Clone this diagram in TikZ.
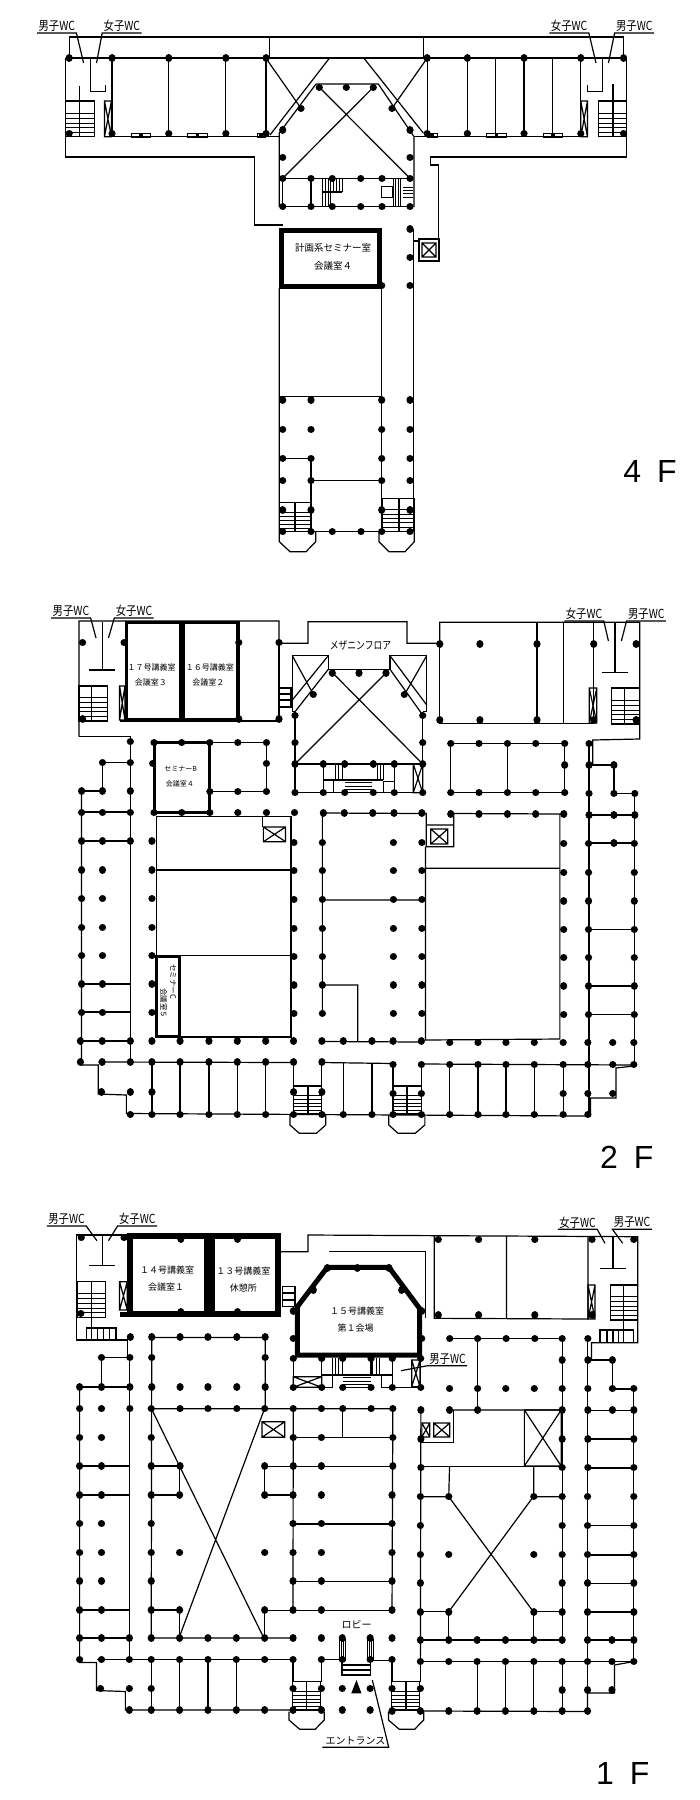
\documentclass[tikz,border=0pt]{standalone}
\usepackage{fontspec}
\newfontfamily\jp{Noto Sans CJK JP}
\newfontfamily\lat{Liberation Sans}

\newcommand{\cols}[2]{\draw[colmark] foreach \cx in {#1} {(\cx,#2) -- ++(.01,0)};}
\newcommand{\xbox}[4]{\draw[wall] (#1,#2) rectangle (#3,#4) (#1,#2) -- (#3,#4) (#1,#4) -- (#3,#2);}
\newcommand{\stairs}[5]{\draw[wall] (#1,#2) rectangle (#3,#4) (#5,#2) -- (#5,#4);
	\draw[thin] foreach \t in {.33,.47,.61,.73,.87} {(#1,{#2+\t*(#4-#2)}) -- (#3,{#2+\t*(#4-#2)})};}
\newcommand{\doormark}[3]{\draw[thin] (#1,#3) rectangle (#2,#3-4); \fill ({(#1+#2)/2-2},#3-3.5) rectangle ({(#1+#2)/2+2},#3-1);}
\newcommand{\wc}[1]{\scalebox{.83}[1]{#1}}

\begin{document}
\begin{tikzpicture}[x=.995pt, y=-1pt]
	\tikzstyle{wall}=[line width=1.2pt]
	\tikzstyle{colmark}=[line width=7.2pt, line cap=round]
	\tikzstyle{wclab}=[font=\jp\fontsize{12.5}{12.5}\selectfont, inner sep=0pt, minimum width=39pt, minimum height=13.5pt]
	\tikzstyle{room}=[font=\jp\fontsize{8}{8}\selectfont, inner sep=0pt]
	\tikzstyle{floorlab}=[font=\lat\fontsize{32}{32}\selectfont, inner sep=0pt]
	\useasboundingbox (0,0) rectangle (703.5,1800);

	% 4F
	\node[wclab] (m4l) at (57,26) {\wc{男子WC}};
	\node[wclab] (w4l) at (122.5,26) {\wc{女子WC}};
	\node[wclab] (w4r) at (572,26) {\wc{女子WC}};
	\node[wclab] (m4r) at (637.5,26) {\wc{男子WC}};
	\draw[wall] (m4l.south west) -- (m4l.south east) -- (84,63);
	\draw[wall] (w4l.south east) -- (w4l.south west) -- (97,63);
	\draw[wall] (w4r.south west) -- (w4r.south east) -- (599,63);
	\draw[wall] (m4r.south east) -- (m4r.south west) -- (611.5,63);
	\draw[wall] (69.5,58) -- (69.5,37) -- (627,37) -- (627,58) (271,37) -- (271,58) (426,37) -- (426,58);
	\draw[wall] (66,58) -- (630,58);
	\draw[wall] (66,58) -- (66,157) -- (256,157) -- (256,225) -- (284,225);
	\draw[wall] (630,58) -- (630,157) -- (433,157) -- (433,165) -- (440.5,165) -- (440.5,240);
	\draw[wall] (106,136.7) -- (280.4,136.7) (416,136.7) -- (591,136.7);
	\foreach \x in {112.6,169.6,227,267.4,429.3,469.7,498,526.7,555.4,583.7} \draw[wall] (\x,58) -- (\x,134);
	\draw[wall] (91,58) -- (91,91.5) -- (106,91.5) -- (106,85) (605.6,58) -- (605.6,91.5) -- (590.4,91.5) -- (590.4,85);
	\draw[wall] (80,86) -- (80,101) (616,84) -- (616,101);
	\stairs{66}{101}{94.7}{136.7}{80}
	\stairs{601.6}{101}{630}{136.7}{616}
	\xbox{105}{101}{112}{136.7}
	\xbox{583.7}{101}{590.4}{136.7}
	\doormark{131.5}{151}{136.7}
	\doormark{188.4}{208.6}{136.7}
	\doormark{258}{267}{136.7}
	\doormark{429}{439}{136.7}
	\doormark{489}{509}{136.7}
	\doormark{546}{565}{136.7}
	\cols{69.5,112.6,169.6,227,267.4,429.3,469.7,526.7,583.7,626.7}{58}
	\cols{69.5,112.6,169.6,227,267.4,429.3,469.7,526.7,583.7,626.7}{133.5}
	\begin{scope}[x=1pt]
		\node[floorlab] (f4) at (650,471.7) {4\hspace{16pt}F};
		\draw[wall] (316,84) -- (378.3,84) -- (414,136.7) -- (414,207) (316,84) -- (279.3,133) -- (279.3,207);
		\draw[wall] (329.3,58.3) -- (270,135) (364,58.3) -- (423.3,133) (266,58.3) -- (301,108.3) (427,58.3) -- (392,108.3);
		\draw[wall] (319.3,87.3) -- (410,178.3) (373.3,87.3) -- (282.7,178.3);
		\draw[wall] (282.7,178.3) -- (410,178.3) (282.7,206.7) -- (410,206.7) (311,178.3) -- (311,206.7) (282.7,178.3) -- (282.7,206.7);
		\foreach \x in {322.3,325,327.7,330.3} \draw[thin] (\x,178.3) -- (\x,206.7);
		\foreach \x in {333.3,336,339,342.3} \draw[thin] (\x,178.3) -- (\x,192);
		\draw[wall] (322.3,192) -- (342.3,192) (342.3,178.3) -- (342.3,192);
		\foreach \x in {392.7,395,398,400} \draw[thin] (\x,178.3) -- (\x,206.7);
		\foreach \y in {186.7,190,193.3,196.7} \draw[thin] (403,\y) -- (413.3,\y);
		\draw[wall] (381.7,186.7) rectangle (392.7,197.3);
		\cols{319.3,346.3,373.3}{87.3}
		\cols{301,392}{108.3}
		\cols{282.7,410}{130}
		\cols{282.7,410}{157.3}
		\cols{282.7,311,332.3,360.7,382,410}{178.3}
		\cols{282.7,311,332.3,360.7,382,410}{206.7}
		\draw[line width=4.5pt] (281.7,230.7) rectangle (379.3,286.7);
		\node[room, font=\jp\fontsize{9.5}{9.5}\selectfont] (sem4) at (333,248) {計画系セミナー室};
		\node[room, font=\jp\fontsize{9.5}{9.5}\selectfont] (conf4) at (333,266) {会議室４};
		\draw[wall] (413.3,229) -- (413.3,531.7) (413.3,241) -- (419,241);
		\draw[wall] (419,239) rectangle (439,261);
		\xbox{422}{243}{436}{257}
		\draw[wall] (279.3,288) -- (279.3,541.7) -- (290,551.7) -- (306,551.7) -- (315.7,541.7) -- (315.7,531.7);
		\draw[wall] (381.7,288) -- (381.7,531.7) (279.3,396.7) -- (381.7,396.7);
		\draw[wall] (379,531.7) -- (379,541.7) -- (389,551.7) -- (405,551.7) -- (414.3,541.7) -- (414.3,531.7);
		\draw[wall] (282.7,458.3) -- (311,458.3) -- (311,531.7) (311,480.7) -- (381.7,480.7) (279.3,531.7) -- (413.3,531.7);
		\stairs{279.3}{502.7}{311}{531.7}{295}
		\stairs{382.7}{498.3}{414.3}{531.7}{399}
		\cols{282.7,311,381.7,410}{400}
		\cols{282.7,311,381.7,410}{429.3}
		\cols{282.7,311,381.7,410}{458.3}
		\cols{282.7,311,381.7,410}{480.7}
		\cols{282.7,311,381.7,410}{510}
		\cols{282.7,311,332.3,361,381.7,410}{531.7}
		\cols{410}{229}
		\cols{410}{257.3}
		\cols{381.7,410}{285.7}
	\end{scope}

	% 2F
	\node[floorlab] (f2) at (630,1157) {2\hspace{16pt}F};
	\node[wclab] (m2l) at (71.3,611) {\wc{男子WC}};
	\node[wclab] (w2l) at (134.7,611) {\wc{女子WC}};
	\node[wclab] (w2r) at (587,614) {\wc{女子WC}};
	\node[wclab] (m2r) at (649.5,614) {\wc{男子WC}};
	\draw[wall] (m2l.south west) -- (m2l.south east) -- (96.5,638);
	\draw[wall] (w2l.south east) -- (w2l.south west) -- (109,638);
	\draw[wall] (w2r.south west) -- (w2r.south east) -- (611.5,641);
	\draw[wall] (m2r.south east) -- (m2r.south west) -- (624.5,641);
	\draw[wall] (79.4,736.7) -- (79.4,621) -- (280.4,621) -- (280.4,643.3) -- (309.6,643.3) -- (309.6,621.7) -- (409,621.7) -- (409,643.3) -- (442,643.3) -- (442,622.3) -- (643,622.3) -- (643,739) -- (595.8,740) -- (595.8,764);
	\draw[wall] (79.4,736.7) -- (131,736.7) -- (131,1062);
	\draw[wall] (102.7,622) -- (102.7,670) (89.7,670) -- (115.7,670) (618,622) -- (618,672.7) (604.8,672.7) -- (630.8,672.7);
	\draw[line width=3.5pt] (127,622.3) rectangle (239,719.3);
	\draw[line width=6pt] (182.6,622.3) -- (182.6,719.3);
	\draw[wall] (121,721) -- (280.4,721) (280.4,643.3) -- (280.4,721);
	\node[room] (r17) at (152.5,667.3) {１７号講義室};
	\node[room] (c3) at (151.6,682.7) {会議室３};
	\node[room] (r16) at (210.9,667.3) {１６号講義室};
	\node[room] (c2) at (209.5,682.7) {会議室２};
	\stairs{79.4}{686}{107.7}{721}{92}
	\stairs{614.6}{688}{643}{724}{628}
	\xbox{120.2}{686}{125.6}{720}
	\xbox{592.2}{688}{599.8}{723}
	\draw[wall] (442,622.3) -- (442,723.3) -- (596.7,723.3) (539.7,622.3) -- (539.7,723.3) (566,622.3) -- (566,723.3) (596.7,622.3) -- (596.7,723.3);
	\draw[wall] (280.4,688) rectangle (292.5,707) (280.4,694) -- (292.5,694) (280.4,700) -- (292.5,700);
	\cols{83,124.7,240,280.4}{642.5}
	\cols{442,482.3,539.7,596.7,639.3}{644}
	\cols{83,240,280.4}{719}
	\cols{442,482.3,539.7,596.7,639.3}{720}
	\begin{scope}[x=1pt]
		\node[font=\jp\fontsize{11}{11}\selectfont, inner sep=0pt] (mezz) at (360.5,645) {\scalebox{.8}[1]{メザニンフロア}};
		\draw[wall] (295,711.7) -- (292.3,711.7) -- (292.3,655.7) -- (328.3,655.7) -- (328.3,669.3) -- (390,669.3) -- (390,655.7) -- (426.7,655.7) -- (426.7,711.7) -- (422.7,711.7);
		\draw[wall] (328.3,655.7) -- (292.3,700) (328.3,669.3) -- (295,711.7) (292.3,655.7) -- (313.3,694.3);
		\draw[wall] (390,655.7) -- (426.7,705) (390,669.3) -- (422.7,715) (426.7,655.7) -- (404.3,695);
		\draw[wall] (332.3,672.5) -- (422.7,764) (386,673) -- (295,764);
		\draw[wall] (295,711.7) -- (295,792.7) -- (422.7,792.7) -- (422.7,711.7) (295,764) -- (422.7,764);
		\draw[wall] (323.3,764) -- (323.3,792.7) (394.3,764) -- (394.3,792.7) (323.3,780) -- (383,780);
		\foreach \x in {335,338.3,341.7,376.7,380,383.3} \draw[thin] (\x,764) -- (\x,780);
		\foreach \y in {781.7,785.7,789} \draw[thin] (345,\y) -- (371.7,\y);
		\draw[wall] (323.3,780) rectangle (333.3,792.7) (383.3,781.7) rectangle (394.3,792.7);
		\xbox{413.3}{764}{422.7}{792.7}
		\cols{332.3,359,386}{673}
		\cols{313.3,404.3}{694.5}
		\cols{295,422.7}{715.5}
		\cols{295,422.7}{742.8}
		\cols{295,323.3,344.7,373.3,394.3,422.7}{764}
		\cols{295,323.3,344.7,373.3,394.3,422.7}{792.7}
	\end{scope}
	\draw[line width=3pt] (154.8,742.7) rectangle (210.9,812.7);
	\node[room, font=\jp\fontsize{7}{7}\selectfont] (semb) at (181.7,769.3) {セミナーB};
	\node[room, font=\jp\fontsize{7}{7}\selectfont] (c4) at (180.8,784) {会議室４};
	\draw[wall] (210.9,742.7) -- (267.8,742.7) -- (267.8,791.7) -- (210.9,791.7);
	\cols{154.8,182.6,210.9,239,267.8}{742.7}
	\cols{154.8,182.6,210.9,239,267.8,296}{812.7}
	\cols{153.4,267.8}{763.3}
	\cols{210.9,239,267.8}{791.7}
	\draw[wall] (453,743.3) -- (567.5,743.3) -- (567.5,792.7) -- (453,792.7) -- cycle (510,743.3) -- (510,792.7);
	\cols{453,481.4,510,538.4,567.5}{743.3}
	\cols{567.5}{765}
	\cols{453,481.4,510,538.4,567.5}{792.7}
	% 2F wings
	\draw[wall] (82,791) -- (82,1065) -- (98.8,1065) -- (98.8,1094) -- (127,1095) -- (127,1113.5) -- (590,1116) -- (593.5,1116) -- (593.5,1098) -- (619,1098) -- (619,1068) -- (637,1066);
	\draw[wall] (82,791) -- (103,791) -- (103,762.7) -- (131,762.7);
	\foreach \y in {812,841,984,1012,1041} \draw[wall] (82,\y) -- (131,\y);
	\draw[wall] (98.8,1062) -- (295,1062.5) (323.5,1062.5) -- (395,1063.5) (423.5,1064) -- (637,1065);
	\draw[wall] (323.5,1041.5) -- (423.5,1042);
	\foreach \x in {152.7,181,210,238.5,267,345,373.8,452,480.4,508.5,537,566} \draw[wall] (\x,1063) -- (\x,1115);
	\foreach \x in {295,323.5,395,423.5} \draw[wall] (\x,1063) -- (\x,1086);
	\stairs{295}{1086}{323.5}{1114}{309.6}
	\stairs{395}{1086}{423.5}{1114}{409}
	\draw[wall] (291.5,1115) -- (291.5,1125) -- (300.8,1133.3) -- (318,1133.3) -- (327.3,1125) -- (327.3,1115);
	\draw[wall] (390.8,1115) -- (390.8,1125) -- (400,1133.3) -- (417.3,1133.3) -- (427,1125) -- (427,1115);
	\draw[wall] (157.3,816.7) -- (292.5,816.7) -- (292.5,1037) -- (157.3,1037) -- cycle (157.3,870) -- (292.5,870) (157.3,955.7) -- (292.5,955.7);
	\draw[line width=3pt] (157.3,956) rectangle (180.8,1036.7);
	\node[room, rotate=-90, font=\jp\fontsize{7.5}{7.5}\selectfont] (semc) at (174,981.7) {セミナーC};
	\node[room, rotate=-90, font=\jp\fontsize{7.5}{7.5}\selectfont] (c5) at (164.6,1003) {会議室５};
	\draw[wall] (263.8,816.7) -- (263.8,827);
	\xbox{264.7}{827}{287}{841.7}
	\draw[wall] (324,813) -- (424,813.5) (324,813) -- (324,1013.3) (324,900) -- (424,900) (324,985) -- (359.6,985) -- (359.6,1041.7);
	\draw[wall] (424,813.5) -- (428.4,813.5) -- (428.4,825) -- (456,825) -- (456,813.5) -- (566.6,814) (428.4,825) -- (428.4,846.7) -- (456,846.7) -- (456,825);
	\xbox{433}{829}{450}{844}
	\draw[wall] (427.7,846.7) -- (427.7,1040) -- (562.7,1039) -- (562.7,814) (427.7,868.3) -- (562.7,868.3);
	\draw[wall] (592,743) -- (592,1116) (592,765) -- (617,765) -- (617,793.3) -- (638,793.3) -- (638,1065);
	\foreach \y in {815,843,929.3,986,1014.7} \draw[wall] (592,\y) -- (638,\y);
	\foreach \y in {791,812.3,841,870,898.7,927.3,955.7,984,1012.3} {\cols{82,103}{\y}}
	\cols{131,103}{762.7}
	\cols{131}{791}
	\cols{131}{812.3}
	\cols{131}{841}
	\cols{131}{741.7}
	\foreach \y in {841,870,898.7,927.3,955.7,984,1012.3} {\cols{152.7}{\y}}
	\foreach \y in {842.7,870.7,899.3,928.3,956.7,985,1013.3} {\cols{295.4,324,395.4,424}{\y}}
	\foreach \y in {843.3,872.3,901,929.3,957.7,986,1014.7} {\cols{566.5,591.5,637.5}{\y}}
	\cols{325,346,374.6,396,424}{813}
	\cols{453,481.4,510,538.4,566.6}{814}
	\cols{592,617,638}{815}
	\cols{592,617}{765}
	\cols{592,617,638}{793.3}
	\cols{592}{743.7}
	\cols{617}{843}
	\cols{80.8,102.7,131,152.7,181,210,238.5,267,295,323.5,345,373.8,395,423.5}{1041}
	\cols{452,480.4,508.5,537,566,590.8,615.8,637}{1042.5}
	\cols{80.8,102.7,131,152.7,181,210,238.5,267,295,323.5}{1062}
	\cols{395,423.5,452,480.4,508.5,537,566,590.8,615.8,637}{1064.5}
	\cols{102,131,152.7,295,323.5}{1092}
	\cols{395,423.5,566,590.8,615.8}{1093.5}
	\cols{131,152.7,181,210,238.5,267,295,323.5,345,373.8,395,423.5,452,480.4,508.5,537,566,590.8}{1114.5}

	% 1F
	\node[floorlab] (f1) at (626,1773) {1\hspace{16pt}F};
	\node[wclab] (m1l) at (66.8,1219) {\wc{男子WC}};
	\node[wclab] (w1l) at (138,1219) {\wc{女子WC}};
	\node[wclab] (w1r) at (580.4,1222.3) {\wc{女子WC}};
	\node[wclab] (m1r) at (635.3,1222.3) {\wc{男子WC}};
	\draw[wall] (m1l.south west) -- (m1l.south east) -- (97.4,1240.7);
	\draw[wall] (w1l.south east) -- (w1l.south west) -- (109,1240.7);
	\draw[wall] (w1r.south west) -- (w1r.south east) -- (608,1243.3);
	\draw[wall] (m1r.south east) -- (m1r.south west) -- (625.8,1243.3);
	\draw[wall] (130,1235) -- (77.2,1235) -- (77.2,1340) -- (128,1340) -- (128,1357) (130.5,1357) -- (130.5,1659);
	\draw[wall] (282.6,1251.7) -- (309.6,1251.7) -- (309.6,1235) -- (641,1236.7) -- (641,1342.7) -- (594.4,1342.7) -- (594.4,1360);
	\draw[wall] (331,1251.7) -- (427.5,1251.7) -- (427.5,1318);
	\draw[wall] (436.5,1236) -- (436.5,1318.3) -- (591,1319) -- (591,1237) (509,1236) -- (509,1319);
	\draw[wall] (103.2,1235) -- (103.2,1265.7) (89.7,1265.7) -- (115.7,1265.7) (616,1236.7) -- (616,1268.3) (603.4,1268.3) -- (629,1268.3);
	\draw[line width=6pt] (130.5,1236.3) rectangle (279,1314.3);
	\draw[line width=11pt] (210.9,1236.3) -- (210.9,1314.3);
	\draw[line width=5.5pt] (120.5,1314.5) -- (130.5,1314.5);
	\node[room, font=\jp\fontsize{9}{9}\selectfont] (r14) at (168,1270) {１４号講義室};
	\node[room, font=\jp\fontsize{9}{9}\selectfont] (c1) at (167,1287.3) {会議室１};
	\node[room, font=\jp\fontsize{9}{9}\selectfont] (r13) at (244.5,1270.7) {１３号講義室};
	\node[room, font=\jp\fontsize{9}{9}\selectfont] (rest) at (244.5,1288) {休憩所};
	\stairs{77.6}{1281.7}{106.3}{1317.3}{92}
	\stairs{613.3}{1285}{641}{1320}{627}
	\xbox{120.2}{1281.7}{127.9}{1310}
	\xbox{591}{1285}{598}{1319}
	\draw[wall] (87,1328) rectangle (116.6,1340) (92,1317.3) -- (92,1340) (98,1328) -- (98,1340) (104,1328) -- (104,1340) (110,1328) -- (110,1340);
	\draw[wall] (603,1330) rectangle (637,1342.7) (627,1320) -- (627,1342.7) (610,1330) -- (610,1342.7) (616,1330) -- (616,1342.7) (622,1330) -- (622,1342.7);
	\cols{81.7,124.7}{1237.7}
	\cols{440.5,481,537.5,595,637}{1239.5}
	\cols{81.2}{1313.3}
	\cols{440.5,481,537.5,595}{1315}
	\cols{181.7,238.7}{1239}
	\cols{181.7,238.7}{1312}
	% 1F center
	\begin{scope}[x=1pt]
		\draw[line width=5pt] (327.3,1267.3) -- (389,1267.3) -- (419.5,1308.3) -- (419.5,1355) -- (297.3,1355) -- (297.3,1306.7) -- cycle;
		\node[room, font=\jp\fontsize{9}{9}\selectfont] (r15) at (357,1310.7) {１５号講義室};
		\node[room, font=\jp\fontsize{9}{9}\selectfont] (hall) at (355.7,1328.3) {第１会場};
		\node[wclab] (m1c) at (447.5,1358.7) {\wc{男子WC}};
		\draw[wall] (m1c.south east) -- (m1c.south west) -- (401,1370.7);
		\draw[wall] (282.7,1286.7) rectangle (295,1306.7) (282.7,1293) -- (295,1293) (282.7,1300) -- (295,1300);
		\draw[wall] (293.3,1358.3) -- (293.3,1387.3) -- (321.7,1387.3) -- (321.7,1358.3) (342.7,1358.3) -- (342.7,1375) (371,1358.3) -- (371,1375) (392.3,1358.3) -- (392.3,1387.3) -- (420.7,1387.3) -- (420.7,1358.3) (321.7,1375) -- (392.3,1375);
		\xbox{293.3}{1376.7}{321.7}{1387.3}
		\xbox{411.7}{1360}{420}{1386.7}
		\foreach \x in {331.7,335,338.3,372.3,376,379.3} \draw[thin] (\x,1358.3) -- (\x,1375);
		\foreach \y in {1377,1381,1384.5,1387.3} \draw[thin] (342.7,\y) -- (371,\y);
		\draw[wall] (321.7,1375) rectangle (332.7,1387.3) (381.7,1375) rectangle (392.3,1387.3);
		\cols{327.3,357.3,389}{1268}
		\cols{313.3,401.7}{1290}
		\cols{293.3,421.7}{1311}
		\cols{293.3,421.7}{1338.3}
		\cols{293.3,321.7,342.7,371,392.3,420.7}{1358.3}
		\cols{293.3,321.7,342.7,371,392.3,420.7}{1387.3}
	\end{scope}
	% 1F wings
	\draw[wall] (80,1387) -- (80,1662.5) -- (97,1662.5) -- (97,1690.5) -- (126,1691.5) -- (126,1710) -- (294.5,1710) (422.5,1711) -- (590.5,1711.5) -- (590.5,1693) -- (617.5,1693) -- (617.5,1665) -- (637,1661.5);
	\draw[wall] (80,1387) -- (130,1387) (102,1387) -- (102,1357.5) -- (130,1357.5);
	\foreach \y in {1466,1495,1610,1638} \draw[wall] (80,\y) -- (130,\y);
	\draw[wall] (97,1659.5) -- (294.5,1659.5) (323,1659.5) -- (344,1659.5) (372.5,1660.5) -- (394,1660.5) (422.5,1661.5) -- (637,1661.5);
	\foreach \x in {152,180.5,209,237.5,479.5,508,536.5,565} \draw[wall] (\x,1660) -- (\x,1711);
	\draw[wall] (294.5,1659.5) -- (294.5,1681.7) (323,1659.5) -- (323,1681.7) (394,1660) -- (394,1681.7) (422.5,1660) -- (422.5,1681.7);
	\stairs{294.2}{1681.7}{322.5}{1710}{308.3}
	\stairs{393.8}{1681.7}{422}{1710}{408}
	\draw[wall] (290.4,1711.7) -- (290.4,1720) -- (301.3,1729.3) -- (316.7,1729.3) -- (325.8,1720) -- (325.8,1711.7);
	\draw[wall] (390.4,1711.7) -- (390.4,1720) -- (401.3,1729.3) -- (416.7,1729.3) -- (425.8,1720) -- (425.8,1711.7);
	% 1F courts
	\draw[wall] (152.5,1337.5) -- (266.5,1337.5) -- (266.5,1408.7) (152.5,1337.5) -- (152,1638) -- (294.5,1638);
	\draw[wall] (152.5,1408.7) -- (394.8,1408.7) -- (394,1611) (294.7,1408.7) -- (294.5,1611);
	\draw[wall] (152.5,1466) -- (180.5,1466) -- (180.5,1495) -- (152,1495);
	\draw[wall] (266,1466.7) -- (394.8,1466.7) (266,1466.7) -- (266,1495) -- (294.5,1495);
	\draw[wall] (294.7,1437.7) -- (394.8,1437.7) (344.5,1408.7) -- (344.5,1437.7) (294.5,1524) -- (394,1524) (294.5,1581.7) -- (394,1581.7) (266,1610.5) -- (394,1610.5);
	\draw[wall] (152,1610) -- (180.5,1610) -- (180.5,1638) (266,1610.5) -- (266,1638);
	\draw[wall] (152,1408.3) -- (265,1637.7) (266,1408.3) -- (180,1637.7);
	\xbox{263.3}{1421.7}{286.2}{1437.3}
	\draw[wall] (452,1338.5) -- (565,1338.5) -- (565,1640) (480,1338.5) -- (480,1410);
	\draw[wall] (451.8,1410) -- (565,1410) (423,1410) -- (422.5,1661);
	\draw[wall] (455.4,1410) -- (455.4,1442.3) -- (423,1442.3) (423,1466.7) -- (565,1466.7);
	\xbox{424}{1423}{432}{1437}
	\xbox{436}{1423}{452}{1437}
	\xbox{527}{1410}{564}{1466}
	\draw[wall] (451.8,1466.7) -- (451,1496.7) -- (422.5,1496.7) (536.5,1466.7) -- (536.5,1496.7) -- (565,1496.7);
	\draw[wall] (451,1496.7) -- (536,1611.7) (536,1496.7) -- (451,1611.7);
	\draw[wall] (422.5,1611.7) -- (451,1611.7) -- (451,1640) (536.5,1640) -- (536.5,1611.7) -- (565,1611.7) (422.5,1640) -- (565,1640);
	\draw[wall] (590.5,1342) -- (590.5,1711) (594,1360) -- (615.5,1360) -- (615.5,1389) -- (637,1389) -- (637,1661.5);
	\foreach \y in {1410.7,1439,1468,1525.7,1555,1583.3,1612,1640} \draw[wall] (590.5,\y) -- (637,\y);
	\cols{131,152.5,181,209,238,266.5}{1337}
	\cols{452,480,508.7,537.5,565,590.8}{1338.7}
	\cols{102,130.5,152.5,266.5}{1357.5}
	\cols{565,590.8,615.5}{1360}
	\cols{80,102,130.5,152.5,181,209,238,266.5}{1387}
	\cols{451.8,480,508.3,537,565,590.8,615.5,637}{1388.5}
	\cols{80,102,130.5,152,181,209,238,266,294.7,323,344.5,373,394.8}{1408.7}
	\cols{423,451.8,480,565,590.8,615.5,637}{1410}
	\cols{80,102,152,294.7,323,394.8}{1437.5}
	\cols{423,565,590.8,637}{1439}
	\cols{80,102,152,181,266,294.7,323,394.8}{1466}
	\cols{423,565,590.8,637}{1467.5}
	\cols{80,102,152,180.5,266,294.5,323,394}{1495}
	\cols{422.5,451,536.5,565,590.5,637}{1496.5}
	\cols{80,102,152,294.5,323,394}{1523.5}
	\cols{422.5,565,590.5,637}{1525.5}
	\cols{80,102,152,180.5,266,294.5,323,394}{1552.5}
	\cols{422.5,451,536.5,565,590.5,637}{1554.5}
	\cols{80,102,152,294.5,323,394}{1581}
	\cols{422.5,565,590.5,637}{1583}
	\cols{80,102,152,180.5,266,294.5,323,394}{1610}
	\cols{422.5,451,536.5,565,590.5,637}{1612}
	\cols{80,102,130,152,180.5,209,237.5,266,294.5,323,344,372,394}{1638}
	\cols{422.5,451,479.5,508,536.5,565,590.5,615,637}{1640}
	\cols{80,102,130,152,180.5,209,237.5,266,294.5,323,344,372,394}{1659.5}
	\cols{422.5,451,479.5,508,536.5,565,590.5,615,637}{1661.5}
	\cols{101,130,152,294.5,323,344,372,394,422.5}{1688.5}
	\cols{565,590.5,615}{1690}
	\cols{130,152,180.5,209,237.5,266,294.5,323,344,372}{1710}
	\cols{394,422.5,451,479.5,508,536.5,565,590.5}{1711}
	% entrance
	\draw[wall] (341,1640) rectangle (347,1660) (343,1640) -- (343,1660) (345,1640) -- (345,1660);
	\draw[wall] (369,1640) rectangle (375,1660) (371,1640) -- (371,1660) (373,1640) -- (373,1660);
	\draw[wall] (343.8,1660) -- (343.8,1675) -- (372,1675) -- (372,1660) (343.8,1665) -- (372,1665) (343.8,1670) -- (372,1670);
	\fill (358.3,1680) -- (363.3,1693.3) -- (353,1693.3) -- cycle;
	\node[font=\jp\fontsize{10}{10}\selectfont, inner sep=0pt] (lobby) at (358.3,1624.3) {ロビー};
	\node[font=\jp\fontsize{10}{10}\selectfont, inner sep=0pt, minimum width=66pt, minimum height=12pt] (entr) at (357.3,1741) {エントランス};
	\draw[wall] (entr.south west) -- (entr.south east) -- (374.2,1680);
\end{tikzpicture}
\end{document}
